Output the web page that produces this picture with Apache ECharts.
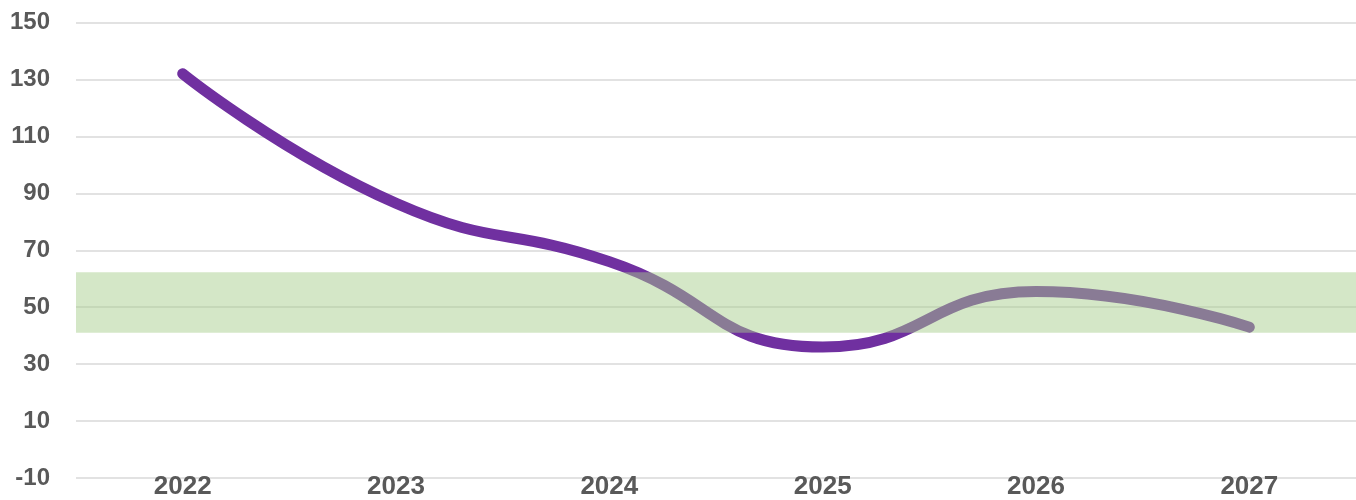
<!DOCTYPE html>
<html>
<head>
<meta charset="utf-8">
<style>
  html, body { margin: 0; padding: 0; background: #ffffff; }
  #chart { width: 1356px; height: 500px; }
</style>
<script src="https://cdn.jsdelivr.net/npm/echarts@6/dist/echarts.min.js"></script>
</head>
<body>
<div id="chart"></div>
<script>
var years = ['2022', '2023', '2024', '2025', '2026', '2027'];
var values = [132, 86.5, 66, 36, 55.5, 43];
var yTicks = [-10, 10, 30, 50, 70, 90, 110, 130, 150];
var bandRange = [41, 62.3];

var labelFont = 'Liberation Sans';
var labelColor = '#595959';

var chart = echarts.init(document.getElementById('chart'));

var option = {
    animation: false,
    grid: {
        left: 76,
        right: 0,
        top: 22.5,
        bottom: 20
    },
    xAxis: {
        type: 'category',
        data: years,
        boundaryGap: true,
        axisLine: { show: false },
        axisTick: { show: false },
        axisLabel: {
            margin: -4,
            fontFamily: labelFont,
            fontWeight: 'bold',
            fontSize: 26,
            color: labelColor
        }
    },
    yAxis: {
        type: 'value',
        min: yTicks[0],
        max: yTicks[yTicks.length - 1],
        axisLine: { show: false },
        axisTick: { show: false, customValues: yTicks },
        axisLabel: {
            customValues: yTicks,
            margin: 26,
            fontFamily: labelFont,
            fontWeight: 'bold',
            fontSize: 24,
            color: labelColor
        },
        splitLine: {
            show: true,
            lineStyle: { color: '#d9d9d9', width: 1.5 }
        }
    },
    series: [
        {
            type: 'line',
            data: values,
            smooth: true,
            showSymbol: false,
            lineStyle: { color: '#7030a0', width: 11, cap: 'round', join: 'round' },
            markArea: {
                silent: true,
                z: 5,
                itemStyle: { color: 'rgba(165, 205, 138, 0.48)' },
                data: [[{ yAxis: bandRange[0] }, { yAxis: bandRange[1] }]]
            }
        }
    ]
};

chart.setOption(option);
</script>
</body>
</html>
